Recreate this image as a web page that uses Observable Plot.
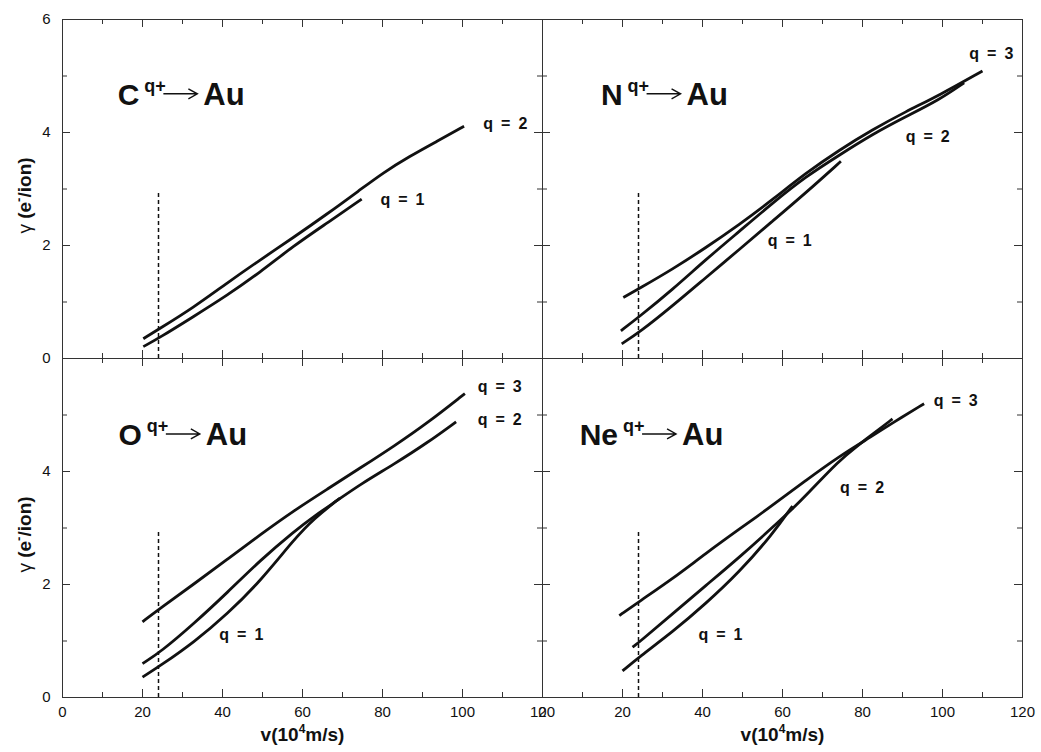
<!DOCTYPE html>
<html><head><meta charset="utf-8">
<script src="https://cdn.jsdelivr.net/npm/d3@7"></script>
<script src="https://cdn.jsdelivr.net/npm/@observablehq/plot@0.6"></script>
<style>body{margin:0;background:#fff;} #chart{width:1041px;height:752px;}</style>
</head><body><div id="chart"></div>
<script>
// ---- axis ticks ----
const xMajor = [0, 20, 40, 60, 80, 100, 120];
const xMinor = [10, 30, 50, 70, 90, 110];
const yMajor = [0, 2, 4, 6];
const yMinor = [1, 3, 5];
const yLabelsTop = [0, 2, 4, 6];
const yLabelsBottom = [0, 2, 4];

// ---- panels ----
const panelNames = ["C", "N", "O", "Ne"];
const panelCols = ["L", "R", "L", "R"];
const panelRows = ["T", "T", "B", "B"];
const titleV = [13.8, 14.6, 14.0, 9.3];
const titleG = [4.49, 4.49, 4.47, 4.47];

// ---- series: [v (10^4 m/s), gamma (e-/ion)] ----
const C_q1 = [[20.2,0.21],[24.3,0.37],[32.7,0.74],[41,1.11],[49.3,1.52],[57.7,1.99],[66,2.39],[74.8,2.82]];
const C_q2 = [[20.2,0.35],[24.3,0.53],[32.7,0.9],[41,1.33],[49.3,1.74],[57.7,2.14],[66,2.55],[74.3,2.98],[80.2,3.29],[86.8,3.58],[93.5,3.84],[100.4,4.11]];
const N_q1 = [[19.8,0.26],[24.2,0.46],[32.5,0.93],[40.8,1.43],[49.2,1.93],[57.5,2.43],[65.8,2.93],[74.6,3.49]];
const N_q2 = [[19.6,0.49],[24.2,0.74],[32.5,1.22],[40.8,1.75],[49.2,2.25],[57.5,2.75],[65.8,3.22],[74.2,3.6],[82.5,3.97],[90.8,4.28],[99.2,4.58],[105.4,4.88]];
const N_q3 = [[20.2,1.08],[24.2,1.24],[32.5,1.58],[40.8,1.96],[49.2,2.37],[57.5,2.81],[65.8,3.28],[74.2,3.69],[82.5,4.05],[90.8,4.37],[99.2,4.66],[110,5.09]];
const O_q1 = [[20,0.36],[24.6,0.57],[32.9,0.98],[41.25,1.48],[49.6,2.07],[57.9,2.8],[62.9,3.17],[69.4,3.53]];
const O_q2 = [[20,0.6],[24.6,0.81],[32.9,1.31],[41.25,1.86],[49.6,2.44],[57.9,2.94],[62.9,3.21],[68.75,3.49],[74.6,3.78],[82.9,4.13],[91.25,4.51],[98.4,4.88]];
const O_q3 = [[20,1.34],[24.6,1.59],[32.9,2.01],[41.25,2.45],[49.6,2.89],[57.9,3.31],[66.25,3.69],[74.6,4.07],[82.9,4.45],[91.25,4.86],[100.6,5.38]];
const Ne_q1 = [[20,0.47],[24.2,0.72],[32.5,1.16],[40.8,1.66],[49.2,2.22],[57.5,2.89],[62.5,3.39]];
const Ne_q2 = [[22.5,0.89],[24.2,0.98],[32.5,1.48],[40.8,1.98],[49.2,2.48],[57.5,3.01],[62.5,3.34],[65.8,3.57],[74.2,4.2],[79.2,4.48],[82.5,4.66],[87.5,4.93]];
const Ne_q3 = [[19.2,1.45],[24.2,1.7],[32.5,2.1],[40.8,2.55],[49.2,2.98],[57.5,3.4],[65.8,3.84],[74.2,4.27],[82.5,4.63],[87.5,4.86],[95.4,5.2]];

// ---- curve labels ----
const qLabelPanel = ["C","C","N","N","N","O","O","O","Ne","Ne","Ne"];
const qLabelQ     = [2, 1, 3, 2, 1, 3, 2, 1, 3, 2, 1];
const qLabelV     = [105.2, 79.5, 106.7, 90.8, 56.3, 103.8, 103.8, 39.2, 97.8, 74.4, 39.0];
const qLabelG     = [4.16, 2.81, 5.40, 3.93, 2.08, 5.49, 4.92, 1.11, 5.25, 3.71, 1.11];

// threshold (dashed) line
const thresholdV = 24;
const thresholdTop = 2.95;

// ---- build tables ----
const colOf = {}, rowOf = {};
panelNames.forEach((p, i) => { colOf[p] = panelCols[i]; rowOf[p] = panelRows[i]; });
const seriesList = [["C",1,C_q1],["C",2,C_q2],["N",1,N_q1],["N",2,N_q2],["N",3,N_q3],
  ["O",1,O_q1],["O",2,O_q2],["O",3,O_q3],["Ne",1,Ne_q1],["Ne",2,Ne_q2],["Ne",3,Ne_q3]];
const lineRows = seriesList.flatMap(([p, q, pts]) => pts.map(([v, g]) => ({key: p + q, v, g, col: colOf[p], row: rowOf[p]})));
const labelRows = qLabelPanel.map((p, i) => ({col: colOf[p], row: rowOf[p], v: qLabelV[i], g: qLabelG[i], text: "q\u2002=\u2002" + qLabelQ[i]}));
const titleRows = panelNames.map((p, i) => ({col: panelCols[i], row: panelRows[i], v: titleV[i], g: titleG[i], text: "T|" + p}));
const dashRows = panelNames.map((p, i) => ({col: panelCols[i], row: panelRows[i], v: thresholdV, top: thresholdTop}));
const yLabRows = [...yLabelsTop.map(v => ({row: "T", v})), ...yLabelsBottom.map(v => ({row: "B", v}))];
const yTitleRows = [{row: "T"}, {row: "B"}];
const xTitleRows = [{col: "L"}, {col: "R"}];

// ---- geometry ----
const W = 1041, H = 752, ML = 62, MR = 19, MT = 19, MB = 55;
const panelW = (W - ML - MR) / 2, panelH = (H - MT - MB) / 2;
const majorLen = 8, minorLen = 5;
const axisColor = "#333";

// inward ticks on all four sides of every panel
const tickMarks = [];
for (const [vals, len] of [[xMajor, majorLen], [xMinor, minorLen]]) {
  tickMarks.push(Plot.tickX(vals, {x: d => d, insetTop: panelH - len, stroke: axisColor, strokeWidth: 1}));
  tickMarks.push(Plot.tickX(vals, {x: d => d, insetBottom: panelH - len, stroke: axisColor, strokeWidth: 1}));
}
for (const [vals, len] of [[yMajor, majorLen], [yMinor, minorLen]]) {
  tickMarks.push(Plot.tickY(vals, {y: d => d, insetRight: panelW - len, stroke: axisColor, strokeWidth: 1}));
  tickMarks.push(Plot.tickY(vals, {y: d => d, insetLeft: panelW - len, stroke: axisColor, strokeWidth: 1}));
}

const FONT = "'Liberation Sans', Arial, Helvetica, sans-serif";

const plot = Plot.plot({
  width: W, height: H,
  marginLeft: ML, marginRight: MR, marginTop: MT, marginBottom: MB,
  style: {fontFamily: FONT, fontSize: "15px", color: "#111", background: "#fff", overflow: "visible"},
  fx: {domain: ["L", "R"], padding: 0, axis: null, label: null},
  fy: {domain: ["T", "B"], padding: 0, axis: null, label: null},
  x: {domain: [0, 120]},
  y: {domain: [0, 6], axis: null},
  marks: [
    Plot.frame({stroke: axisColor, strokeWidth: 1}),
    ...tickMarks,
    Plot.axisX(xMajor, {anchor: "bottom", tickSize: 0, tickPadding: 9, label: null, fontSize: 15, fill: "#111"}),
    Plot.text(yLabRows, {y: "v", text: d => String(d.v), fy: "row", fx: () => "L", frameAnchor: "left", dx: -12, textAnchor: "end", fontSize: 15, fill: "#111"}),
    Plot.ruleX(dashRows, {x: "v", y1: 0, y2: "top", fx: "col", fy: "row", stroke: "#111", strokeWidth: 1.5, strokeDasharray: "4,3"}),
    Plot.line(lineRows, {x: "v", y: "g", z: "key", fx: "col", fy: "row", stroke: "#111", strokeWidth: 2.8, curve: "basis", strokeLinecap: "butt"}),
    Plot.text(labelRows, {x: "v", y: "g", text: "text", fx: "col", fy: "row", textAnchor: "start", fontSize: 16, fontWeight: "bold", fill: "#111"}),
    Plot.text(titleRows, {x: "v", y: "g", text: "text", fx: "col", fy: "row", textAnchor: "start", lineAnchor: "bottom", fontSize: 30, fontWeight: "bold", fill: "#111"}),
    Plot.text(yTitleRows, {text: d => "Y|" + d.row, fy: "row", fx: () => "L", frameAnchor: "left", textAnchor: "middle", rotate: -90, dx: -38, fontSize: 19, fontWeight: "bold", fill: "#111"}),
    Plot.text(xTitleRows, {text: () => "X|", fx: "col", fy: () => "B", frameAnchor: "bottom", textAnchor: "middle", dy: 43, fontSize: 19, fontWeight: "bold", fill: "#111"})
  ]
});
document.getElementById("chart").appendChild(plot);

// ---- rich text post-processing (superscripts, arrow) ----
const NS = "http://www.w3.org/2000/svg";
function tspan(parent, txt, attrs) {
  const t = document.createElementNS(NS, "tspan");
  t.textContent = txt;
  for (const k in attrs) t.setAttribute(k, attrs[k]);
  parent.appendChild(t);
  return t;
}
const svgEl = plot.tagName.toLowerCase() === "svg" ? plot : plot.querySelector("svg");
const svgTop = svgEl.getBoundingClientRect().top;
Array.from(svgEl.querySelectorAll("text")).forEach(el => {
  const s = el.textContent;
  if (s.startsWith("T|")) {
    const elem = s.slice(2);
    el.textContent = "";
    const t1 = tspan(el, elem, {"font-size": 30, "font-weight": "bold"});
    tspan(el, "q+", {"font-size": 18, "font-weight": "bold", dx: 5, dy: -13});
    const p0 = el.getStartPositionOfChar(0);
    const L = t1.getComputedTextLength();
    const end = p0.x + L;
    tspan(el, "Au", {"font-size": 31, "font-weight": "bold", x: end + 64, dy: 13});
    const yy = p0.y - 11;
    const a = end + 24, b = end + 58;
    const path = document.createElementNS(NS, "path");
    path.setAttribute("d", `M${a},${yy}H${b}M${b - 9},${yy - 5}L${b},${yy}L${b - 9},${yy + 5}`);
    path.setAttribute("fill", "none");
    path.setAttribute("stroke", "#111");
    path.setAttribute("stroke-width", 1.4);
    const tr = el.getAttribute("transform");
    if (tr) path.setAttribute("transform", tr);
    el.parentNode.appendChild(path);
  } else if (s.startsWith("Y|")) {
    const row = s.slice(2);
    el.textContent = "";
    tspan(el, "\u03b3 ", {"font-weight": "normal"});
    tspan(el, "(e", {"font-weight": "bold"});
    tspan(el, "-", {"font-weight": "bold", "font-size": 13, dy: -8});
    tspan(el, "/ion)", {"font-weight": "bold", dy: 8});
    // centre the rotated title on its panel (slightly below the middle, as in the source)
    const r = el.getBoundingClientRect();
    const actual = (r.top + r.bottom) / 2 - svgTop;
    const desired = MT + panelH * (row === "T" ? 0.5 : 1.5) + 7;
    const delta = desired - actual;
    const tr = el.getAttribute("transform") || "";
    el.setAttribute("transform", tr + ` translate(${-delta},0)`);
  } else if (s.startsWith("X|")) {
    el.textContent = "";
    tspan(el, "v(10", {"font-weight": "bold"});
    tspan(el, "4", {"font-weight": "bold", "font-size": 12, dy: -8});
    tspan(el, "m/s)", {"font-weight": "bold", dy: 8});
  }
});
</script></body></html>
